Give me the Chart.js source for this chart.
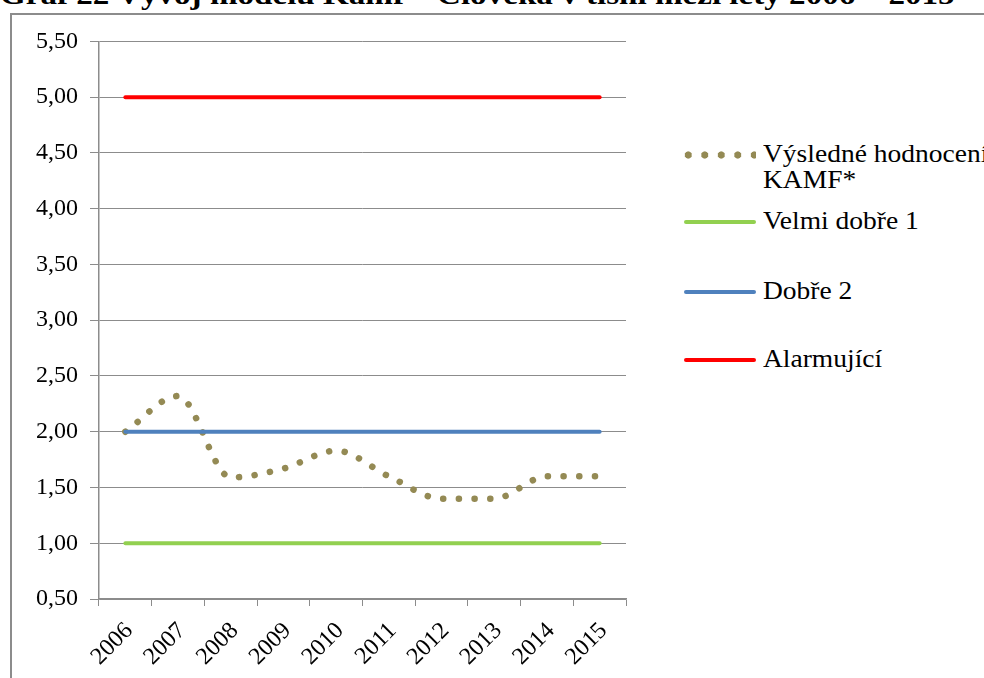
<!DOCTYPE html>
<html>
<head>
<meta charset="utf-8">
<script src="https://cdn.jsdelivr.net/npm/chart.js@4/dist/chart.umd.min.js"></script>
<style>
  body { margin: 0; background: #fff; width: 984px; height: 678px; overflow: hidden; position: relative;
         font-family: "Liberation Serif", "Times New Roman", serif; }
  #title { position: absolute; left: 0; top: -20px; white-space: nowrap; font-weight: bold; font-size: 27px;
           transform-origin: 0 0; z-index: 5; }
  #frame { position: absolute; left: 10px; top: 13px; width: 1000px; height: 700px; border: 2px solid #8c8c8c; background: #fff; }
  #wrap { position: absolute; left: 12px; top: 15px; width: 628px; height: 660px; }
  #legend { position: absolute; left: 0; top: 0; }
  .item { position: absolute; left: 684px; font-size: 25px; line-height: 26px; white-space: nowrap; }
  .sym { position: absolute; left: 0; width: 72px; height: 4px; border-radius: 2px; }
  .sym.dots { height: 8px; border-radius: 0; }
  .txt { position: absolute; left: 79px; transform: scaleX(1.1); transform-origin: 0 0; }
</style>
</head>
<body>
<div id="frame"></div>
<div id="title">Graf 22 Vývoj modelu Kamf – Člověka v tísni mezi lety 2006 – 2015</div>
<div id="wrap"><canvas id="graf"></canvas></div>
<div id="legend"></div>
<script>
// roky
var years = ['2006', '2007', '2008', '2009', '2010', '2011', '2012', '2013', '2014', '2015'];

// hodnoty
var vysledne   = [2.00, 2.32, 1.59, 1.67, 1.83, 1.60, 1.40, 1.40, 1.60, 1.60];
var velmiDobre = [1.00, 1.00, 1.00, 1.00, 1.00, 1.00, 1.00, 1.00, 1.00, 1.00];
var dobre      = [2.00, 2.00, 2.00, 2.00, 2.00, 2.00, 2.00, 2.00, 2.00, 2.00];
var alarm      = [5.00, 5.00, 5.00, 5.00, 5.00, 5.00, 5.00, 5.00, 5.00, 5.00];

var seriesNames = ['Výsledné hodnocení KAMF*', 'Velmi dobře 1', 'Dobře 2', 'Alarmující'];
// legend rows (y of the symbol), first one wraps on two lines
var legendY = [155, 222, 292, 360];

var gridColor = '#8c8c8c';
var tickFont = { family: '"Liberation Serif", "Times New Roman", serif', size: 24 };

// title - stretch to original width
var t = document.getElementById('title');
t.style.transform = 'scaleX(' + (955 / t.offsetWidth) + ')';

var ctx = document.getElementById('graf');
var chart = new Chart(ctx, {
    type: 'line',
    data: {
        labels: years,
        datasets: [{
            label: seriesNames[0],
            data: vysledne,
            borderColor: '#948A54',
            borderWidth: 6.5,
            borderDash: [0.1, 15.6],
            borderCapStyle: 'round',
            cubicInterpolationMode: 'monotone',
            pointRadius: 0,
            order: 4
        }, {
            label: seriesNames[1],
            data: velmiDobre,
            borderColor: '#92D050',
            borderWidth: 4,
            borderCapStyle: 'round',
            pointRadius: 0,
            order: 3
        }, {
            label: seriesNames[2],
            data: dobre,
            borderColor: '#4F81BD',
            borderWidth: 4,
            borderCapStyle: 'round',
            pointRadius: 0,
            order: 2
        }, {
            label: seriesNames[3],
            data: alarm,
            borderColor: '#FF0000',
            borderWidth: 4,
            borderCapStyle: 'round',
            pointRadius: 0,
            order: 1
        }]
    },
    options: {
        responsive: true,
        maintainAspectRatio: false,
        animation: false,
        layout: { padding: { top: 22, right: 14, left: 0, bottom: 0 } },
        plugins: { legend: { display: false }, tooltip: { enabled: false } },
        scales: {
            y: {
                min: 0.5,
                max: 5.5,
                afterFit: function (scale) { scale.width = 87; },
                ticks: {
                    stepSize: 0.5,
                    color: '#000',
                    font: tickFont,
                    padding: 12,
                    callback: function (v) { return v.toFixed(2).replace('.', ','); }
                },
                grid: { color: gridColor, tickLength: 9, lineWidth: 1 },
                border: { color: gridColor, width: 1.5 }
            },
            x: {
                offset: true,
                afterFit: function (scale) { scale.height = 76; },
                ticks: {
                    color: '#000',
                    font: tickFont,
                    minRotation: 45,
                    maxRotation: 45,
                    padding: 11,
                    labelOffset: 4
                },
                grid: { offset: true, drawOnChartArea: false, tickLength: 7, color: gridColor },
                border: { color: gridColor, width: 1.5 }
            }
        }
    }
});

// legend from the datasets
var legend = document.getElementById('legend');
chart.data.datasets.forEach(function (ds, i) {
    var item = document.createElement('div');
    item.className = 'item';
    item.style.top = legendY[i] + 'px';
    var sym = document.createElement('div');
    sym.className = 'sym';
    if (ds.borderDash) {
        sym.className += ' dots';
        sym.style.top = '-4px';
        sym.style.backgroundImage = 'radial-gradient(circle, ' + ds.borderColor + ' 3.3px, transparent 3.9px)';
        sym.style.backgroundSize = '16.5px 8px';
        sym.style.backgroundPosition = '-4px 0';
    } else {
        sym.style.top = '-2px';
        sym.style.background = ds.borderColor;
    }
    var txt = document.createElement('div');
    txt.className = 'txt';
    txt.style.top = '-14px';
    if (i === 0) {
        txt.innerHTML = 'Výsledné hodnocení<br>KAMF*';
    } else {
        txt.textContent = ds.label;
    }
    item.appendChild(sym);
    item.appendChild(txt);
    legend.appendChild(item);
});
</script>
</body>
</html>
